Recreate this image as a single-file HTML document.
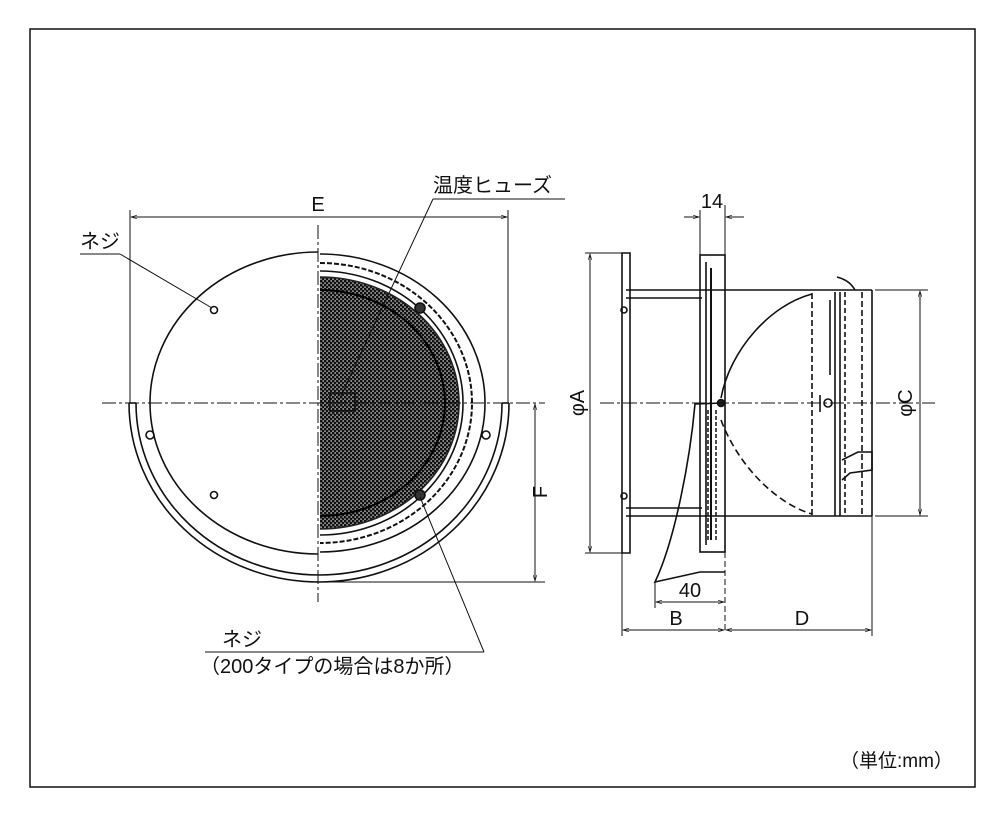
<!DOCTYPE html>
<html><head><meta charset="utf-8"><style>
html,body{margin:0;padding:0;background:#fff;}
svg{display:block;}
text{font-family:"Liberation Sans","Noto Sans CJK JP",sans-serif;fill:#111;}
</style></head><body>
<svg width="1000" height="824" viewBox="0 0 1000 824" xmlns="http://www.w3.org/2000/svg">
<defs>
<pattern id="mesh" width="4" height="4" patternUnits="userSpaceOnUse">
<rect width="4" height="4" fill="#888"/>
<rect x="0" y="0" width="2.4" height="2.4" fill="#111"/>
<rect x="2" y="2" width="2.4" height="2.4" fill="#111"/>
</pattern>
<marker id="ar" viewBox="0 0 10 10" refX="10" refY="5" markerWidth="8" markerHeight="6" orient="auto-start-reverse"><path d="M0,2 L10,5 L0,8" fill="none" stroke="#111" stroke-width="1"/></marker>
</defs>
<rect x="30" y="29" width="945" height="758" fill="none" stroke="#111" stroke-width="1.5"/>
<g fill="none" stroke="#111" stroke-width="1.6">
<path d="M129,403 A190,179 0 0 0 509,403"/>
<path d="M136,403 A183,172 0 0 0 502,403"/>
<line x1="129" y1="403" x2="136" y2="403"/>
<line x1="502" y1="403" x2="509" y2="403"/>
<path d="M318,252 A168,151 0 0 0 318,554"/>
<path d="M320,254 A165,149 0 0 1 320,552"/>
<path d="M320,263 A152,140 0 0 1 320,543" stroke-dasharray="5,2" stroke-width="2"/>
<path d="M320,271 A143,132 0 0 1 320,535"/>
<path d="M320,277 A139,126 0 0 1 320,529" fill="url(#mesh)" stroke="#222"/>
<path d="M320,290 A125,113 0 0 1 320,516" stroke="#000" stroke-width="2"/>
<circle cx="214" cy="310" r="3.5"/><circle cx="214" cy="495" r="3.5"/>
<circle cx="420" cy="308" r="5" fill="#333"/><circle cx="420" cy="495" r="5" fill="#333"/>
<circle cx="150" cy="435" r="4"/><circle cx="486" cy="435" r="4"/>
<rect x="330" y="393" width="25" height="18" stroke-width="1.5"/>
<line x1="102" y1="403" x2="545" y2="403" stroke-width="1" stroke-dasharray="14,3,3,3"/>
<line x1="318" y1="225" x2="318" y2="602" stroke-width="1" stroke-dasharray="14,3,3,3"/>
<line x1="130" y1="210" x2="130" y2="403" stroke-width="1"/>
<line x1="508" y1="210" x2="508" y2="403" stroke-width="1"/>
<line x1="131" y1="217" x2="507" y2="217" stroke-width="1" marker-start="url(#ar)" marker-end="url(#ar)"/>
<line x1="318" y1="582" x2="545" y2="582" stroke-width="1"/>
<line x1="535" y1="404" x2="535" y2="581" stroke-width="1" marker-start="url(#ar)" marker-end="url(#ar)"/>
<line x1="433" y1="199" x2="565" y2="199" stroke-width="1"/>
<line x1="433" y1="199" x2="340" y2="398" stroke-width="1"/>
<line x1="80" y1="254" x2="120" y2="254" stroke-width="1"/>
<line x1="120" y1="254" x2="212" y2="308" stroke-width="1"/>
<line x1="205" y1="652" x2="484" y2="652" stroke-width="1"/>
<line x1="484" y1="652" x2="420" y2="497" stroke-width="1"/>

<path d="M622,253 L630,253 L630,553 L622,553 Z"/>
<line x1="590" y1="254" x2="590" y2="552" stroke-width="1" marker-start="url(#ar)" marker-end="url(#ar)"/>
<line x1="585" y1="253" x2="625" y2="253" stroke-width="1"/>
<line x1="585" y1="553" x2="625" y2="553" stroke-width="1"/>
<line x1="626" y1="290" x2="872" y2="290"/>
<line x1="626" y1="298" x2="702" y2="298"/>
<line x1="626" y1="508" x2="702" y2="508"/>
<line x1="626" y1="516" x2="872" y2="516"/>
<circle cx="624" cy="310" r="3"/><circle cx="624" cy="496" r="3"/>
<rect x="700" y="255" width="25" height="297"/>
<line x1="706" y1="262" x2="706" y2="545"/>
<line x1="711" y1="268" x2="711" y2="540" stroke-width="2"/>
<line x1="725" y1="255" x2="725" y2="630" stroke-width="1" stroke-dasharray="6,3"/>
<line x1="708" y1="410" x2="708" y2="540" stroke-dasharray="4,2" stroke-width="1.5"/>
<line x1="716" y1="410" x2="716" y2="540" stroke-dasharray="4,2" stroke-width="1.5"/>
<circle cx="721" cy="403" r="3.5" fill="#222"/>
<path d="M723,403 L695,404 C690,460 675,540 655,582 L700,572 L725,572"/>
<path d="M721,398 C730,350 770,305 812,294"/>
<path d="M721,420 C740,470 780,505 812,514" stroke-dasharray="7,4"/>
<line x1="812" y1="293" x2="812" y2="516" stroke-dasharray="6,3"/>
<line x1="835" y1="292" x2="835" y2="516"/>
<line x1="840" y1="292" x2="840" y2="516"/>
<line x1="845" y1="292" x2="845" y2="516" stroke-dasharray="5,3"/>
<line x1="862" y1="292" x2="862" y2="516" stroke-dasharray="6,3"/>
<line x1="872" y1="290" x2="872" y2="516"/>
<line x1="830" y1="300" x2="830" y2="375"/>
<path d="M837,277 C848,280 852,285 855,290"/>
<path d="M842,460 L858,452 L872,452 L872,470 L850,473 L842,480"/>
<circle cx="828" cy="403" r="4"/>
<line x1="820" y1="395" x2="820" y2="412"/>
<line x1="700" y1="210" x2="700" y2="255" stroke-width="1"/>
<line x1="725" y1="205" x2="725" y2="255" stroke-width="1"/>
<line x1="684" y1="217" x2="699" y2="217" stroke-width="1" marker-end="url(#ar)"/>
<line x1="744" y1="217" x2="726" y2="217" stroke-width="1" marker-end="url(#ar)"/>
<line x1="655" y1="582" x2="655" y2="608" stroke-width="1"/>
<line x1="656" y1="602" x2="724" y2="602" stroke-width="1" marker-start="url(#ar)" marker-end="url(#ar)"/>
<line x1="622" y1="553" x2="622" y2="636" stroke-width="1"/>
<line x1="872" y1="516" x2="872" y2="636" stroke-width="1"/>
<line x1="623" y1="630" x2="724" y2="630" stroke-width="1" marker-start="url(#ar)" marker-end="url(#ar)"/>
<line x1="726" y1="630" x2="871" y2="630" stroke-width="1" marker-start="url(#ar)" marker-end="url(#ar)"/>
<line x1="875" y1="290" x2="928" y2="290" stroke-width="1"/>
<line x1="875" y1="516" x2="928" y2="516" stroke-width="1"/>
<line x1="920" y1="291" x2="920" y2="515" stroke-width="1" marker-start="url(#ar)" marker-end="url(#ar)"/>
<line x1="600" y1="403" x2="935" y2="403" stroke-width="1" stroke-dasharray="14,3,3,3"/>
</g>
<g font-size="20">
<text x="318" y="211" text-anchor="middle">E</text>
<text x="433" y="192">温度ヒューズ</text>
<text x="80" y="248">ネジ</text>
<text x="222" y="646">ネジ</text>
<text x="200" y="673">（200タイプの場合は8か所）</text>
<text x="840" y="767" font-size="19">（単位:mm）</text>
<text x="712" y="208" text-anchor="middle">14</text>
<text x="690" y="597" text-anchor="middle">40</text>
<text x="676" y="625" text-anchor="middle">B</text>
<text x="802" y="625" text-anchor="middle">D</text>
<text transform="translate(584,403) rotate(-90)" text-anchor="middle">φA</text>
<text transform="translate(912,403) rotate(-90)" text-anchor="middle">φC</text>
<text transform="translate(547,492) rotate(-90)" text-anchor="middle">F</text>
</g>
</svg>
</body></html>
